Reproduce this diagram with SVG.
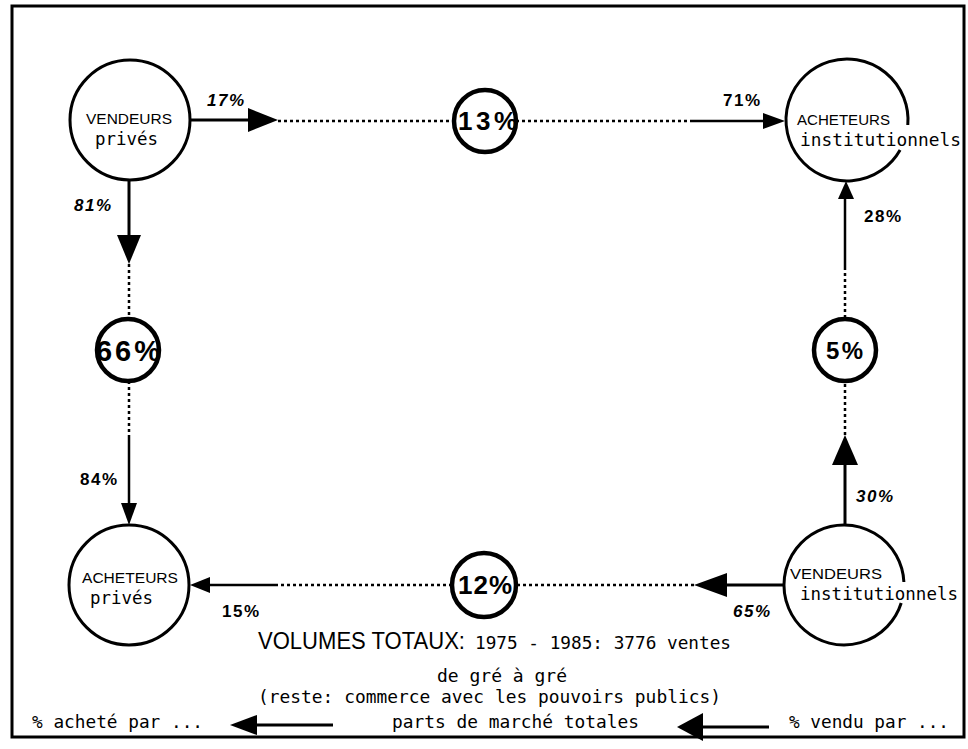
<svg xmlns="http://www.w3.org/2000/svg" width="968" height="749" viewBox="0 0 968 749">
<style>
.node{fill:none;stroke:#000;stroke-width:3}
.mini{fill:none;stroke:#000;stroke-width:4.5}
.solid{stroke:#000;stroke-width:3;fill:none}
.thin{stroke:#000;stroke-width:2.5;fill:none}
.dot{stroke:#000;stroke-width:2.5;stroke-dasharray:3 3;fill:none}
.head{fill:#000;stroke:none}
.cap{font-family:"Liberation Sans",Arial,sans-serif;font-size:15px;fill:#000}
.mono{font-family:"DejaVu Sans Mono","Liberation Mono",monospace;font-size:18px;fill:#000}
.lbl{font-family:"DejaVu Sans Mono","Liberation Mono",monospace;font-size:17px;fill:#000}
.pct{font-family:"Liberation Sans",Arial,sans-serif;font-size:17px;font-weight:bold;fill:#000;letter-spacing:1.5px}
.it{font-style:italic}
.big{font-family:"Liberation Sans",Arial,sans-serif;font-size:26px;font-weight:bold;fill:#000}
.title{font-family:"Liberation Sans",Arial,sans-serif;font-size:24px;fill:#000}
</style>
<rect x="12" y="6" width="952" height="731" fill="#fff" stroke="#000" stroke-width="3"/>

<g id="connectors">
  <!-- VP -> 13% -->
  <line class="solid" x1="190" y1="120" x2="252" y2="120"/>
  <polygon class="head" points="278,120 248,108 248,132"/>
  <line class="dot" x1="278" y1="121" x2="454" y2="121"/>
  <!-- 13% -> AI -->
  <line class="dot" x1="516" y1="121" x2="691" y2="121"/>
  <line class="thin" x1="691" y1="121" x2="768" y2="121"/>
  <polygon class="head" points="785,121 763,113 763,129"/>
  <!-- VP -> 66% -->
  <line class="solid" x1="129" y1="180" x2="129" y2="238"/>
  <polygon class="head" points="129,264 117,235 141,235"/>
  <line class="dot" x1="129" y1="264" x2="129" y2="318"/>
  <!-- 66% -> AP -->
  <line class="dot" x1="129" y1="381" x2="129" y2="435"/>
  <line class="thin" x1="129" y1="435" x2="129" y2="508"/>
  <polygon class="head" points="129,525 121,503 137,503"/>
  <!-- VI -> 5% -->
  <line class="solid" x1="845" y1="525" x2="845" y2="462"/>
  <polygon class="head" points="845,435 832,465 858,465"/>
  <line class="dot" x1="845" y1="435" x2="845" y2="381"/>
  <!-- 5% -> AI -->
  <line class="dot" x1="845" y1="318" x2="845" y2="267"/>
  <line class="thin" x1="845" y1="267" x2="845" y2="196"/>
  <polygon class="head" points="846,181 838,199 854,199"/>
  <!-- VI -> 12% -->
  <line class="solid" x1="784" y1="585" x2="724" y2="585"/>
  <polygon class="head" points="694,585 727,573 727,597"/>
  <line class="dot" x1="694" y1="585" x2="516" y2="585"/>
  <!-- 12% -> AP -->
  <line class="dot" x1="452" y1="585" x2="277" y2="585"/>
  <line class="thin" x1="277" y1="585" x2="206" y2="585"/>
  <polygon class="head" points="190,585 210,577 210,593"/>
</g>

<g id="labels">
  <text class="pct it" x="207" y="106">17%</text>
  <text class="pct" x="723" y="106">71%</text>
  <text class="pct it" x="74" y="211">81%</text>
  <text class="pct" x="864" y="222">28%</text>
  <text class="pct" x="80" y="485">84%</text>
  <text class="pct" x="222" y="617">15%</text>
  <text class="pct it" x="856" y="502">30%</text>
  <text class="pct it" x="733" y="617">65%</text>
</g>

<g id="n-vendeurs-prives">
  <circle class="node" cx="130" cy="120" r="60"/>
  <text class="cap" x="86" y="124" textLength="86" lengthAdjust="spacingAndGlyphs">VENDEURS</text>
  <text class="lbl" x="95" y="145" textLength="63" lengthAdjust="spacingAndGlyphs">privés</text>
</g>

<g id="n-acheteurs-institutionnels">
  <path class="node" d="M900.1,150 A61,61 0 1 1 907.8,125"/>
  <text class="cap" x="797" y="125" textLength="93" lengthAdjust="spacingAndGlyphs">ACHETEURS</text>
  <text class="lbl" x="800" y="146" textLength="161" lengthAdjust="spacingAndGlyphs">institutionnels</text>
</g>

<g id="n-acheteurs-prives">
  <circle class="node" cx="129" cy="585" r="60"/>
  <text class="cap" x="82" y="583" textLength="96" lengthAdjust="spacingAndGlyphs">ACHETEURS</text>
  <text class="lbl" x="90" y="604" textLength="63" lengthAdjust="spacingAndGlyphs">privés</text>
</g>

<g id="n-vendeurs-institutionnels">
  <path class="node" d="M901.2,603 A60,60 0 1 1 903.9,582"/>
  <text class="cap" x="790" y="579" textLength="92" lengthAdjust="spacingAndGlyphs">VENDEURS</text>
  <text class="lbl" x="800" y="600" textLength="158" lengthAdjust="spacingAndGlyphs">institutionnels</text>
</g>

<g id="n-13">
  <circle class="mini" cx="485" cy="121" r="31"/>
  <text class="big" x="458" y="130" textLength="59" lengthAdjust="spacing">13%</text>
</g>
<g id="n-66">
  <circle class="mini" cx="128" cy="350" r="31"/>
  <text class="big" x="96" y="361" style="font-size:29px" textLength="64" lengthAdjust="spacing">66%</text>
</g>
<g id="n-5">
  <circle class="mini" cx="845" cy="350" r="31"/>
  <text class="big" x="826" y="359" style="font-size:24px" textLength="37" lengthAdjust="spacing">5%</text>
</g>
<g id="n-12">
  <circle class="mini" cx="484" cy="585" r="32"/>
  <text class="big" x="458" y="594" textLength="54" lengthAdjust="spacing">12%</text>
</g>

<g id="footer">
  <text class="title" x="258" y="649" textLength="207" lengthAdjust="spacingAndGlyphs">VOLUMES TOTAUX:</text>
  <text class="mono" x="475" y="649" textLength="256" lengthAdjust="spacingAndGlyphs">1975 - 1985: 3776 ventes</text>
  <text class="mono" x="437" y="682" textLength="130" lengthAdjust="spacingAndGlyphs">de gré à gré</text>
  <text class="mono" x="258" y="703" textLength="463" lengthAdjust="spacingAndGlyphs">(reste: commerce avec les pouvoirs publics)</text>
  <text class="mono" x="32" y="728" textLength="171" lengthAdjust="spacingAndGlyphs">% acheté par ...</text>
  <text class="mono" x="392" y="728" textLength="247" lengthAdjust="spacingAndGlyphs">parts de marché totales</text>
  <text class="mono" x="789" y="728" textLength="160" lengthAdjust="spacingAndGlyphs">% vendu par ...</text>
</g>

<g id="legend-arrows">
  <line class="solid" x1="255" y1="725" x2="333" y2="725"/>
  <polygon class="head" points="230,725 257,715 257,735"/>
  <line class="solid" x1="700" y1="727" x2="769" y2="727" stroke-width="3.5"/>
  <polygon class="head" points="677,727 703,713 703,741"/>
</g>
</svg>
